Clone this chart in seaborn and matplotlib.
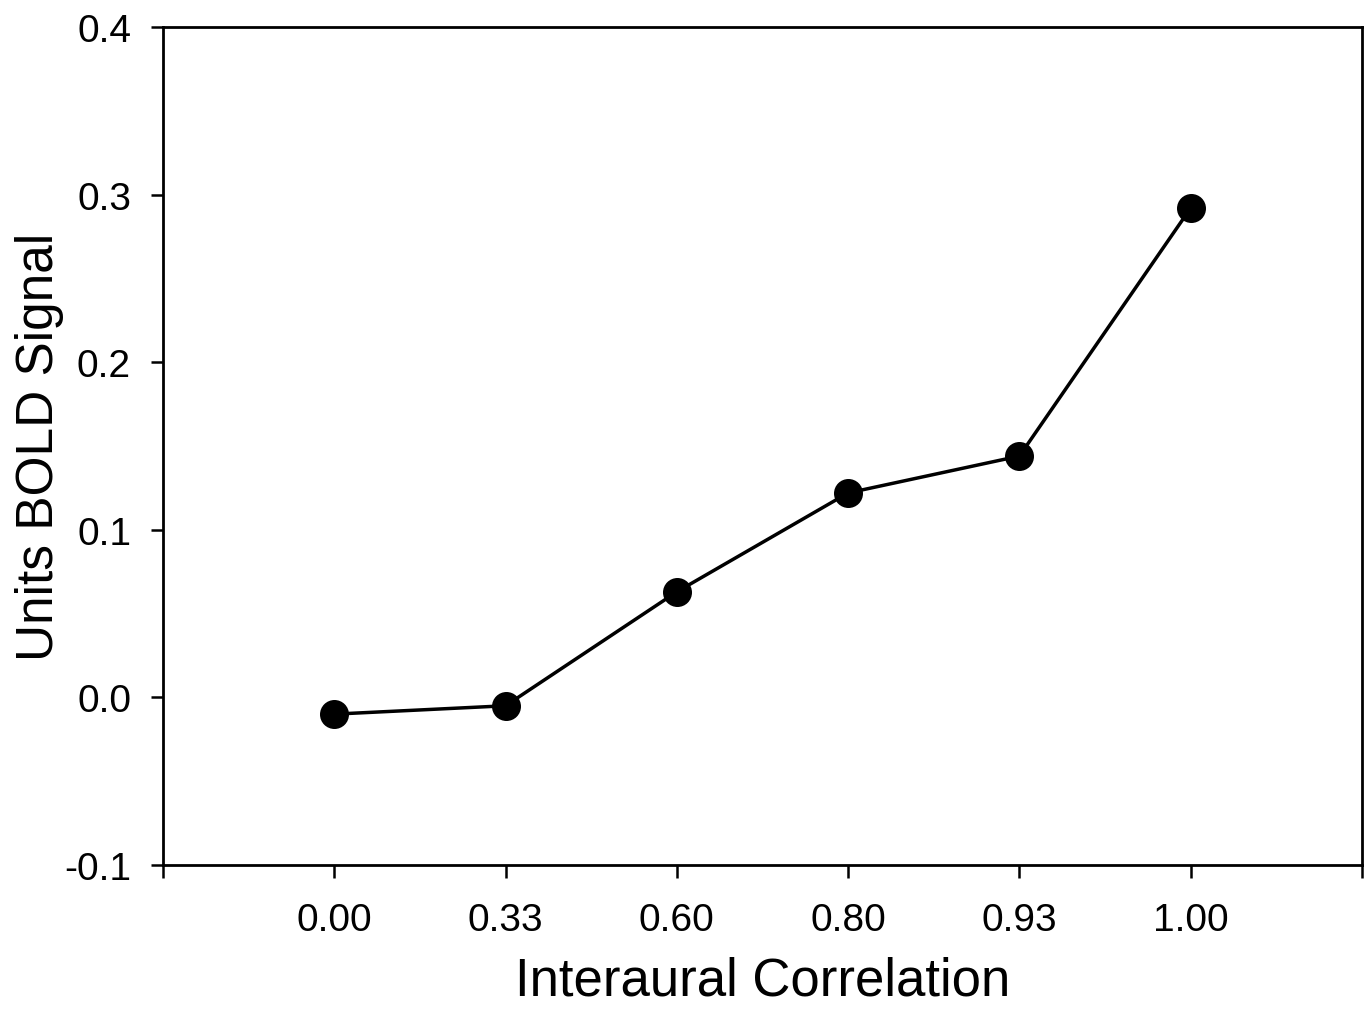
import numpy as np
import seaborn as sb
import matplotlib.pyplot as plt
import pandas as pd

# date
corelatie = ['0.00', '0.33', '0.60', '0.80', '0.93', '1.00']
semnal_bold = [-0.010, -0.005, 0.063, 0.122, 0.144, 0.292]
y_ticks = [-0.1, 0.0, 0.1, 0.2, 0.3, 0.4]

sb.set_theme(style='white')
plt.rcParams['font.family'] = ['Liberation Sans', 'DejaVu Sans']

fig = plt.figure(figsize=(13.64, 10.12), dpi=100)
ax = fig.add_axes([0.1195, 0.1443, 0.879, 0.828])

df = pd.DataFrame({'corelatie': corelatie, 'semnal': semnal_bold})
sb.pointplot(data=df, x='corelatie', y='semnal', color='black', errorbar=None,
             markers='o', markersize=19, linewidth=2.5, ax=ax)

ax.set_xlim(-1, len(corelatie))
ax.set_xticks(range(-1, len(corelatie) + 1))
ax.set_xticklabels([''] + corelatie + [''])
ax.set_ylim(-0.1, 0.4)
ax.set_yticks(y_ticks)
ax.set_yticklabels(['%.1f' % v for v in y_ticks])

ax.set_xlabel('Interaural Correlation', fontsize=38, color='black', labelpad=12)
ax.set_ylabel('Units BOLD Signal', fontsize=37, color='black', labelpad=0)

for s in ax.spines.values():
    s.set_visible(True)
    s.set_color('black')
    s.set_linewidth(2)
ax.tick_params(axis='both', direction='out', length=9, width=1.8, color='black',
               labelsize=28, labelcolor='black', bottom=True, left=True)
ax.tick_params(axis='y', pad=14)
ax.tick_params(axis='x', pad=18)

fig.savefig('out.png', dpi=100, facecolor='white')
